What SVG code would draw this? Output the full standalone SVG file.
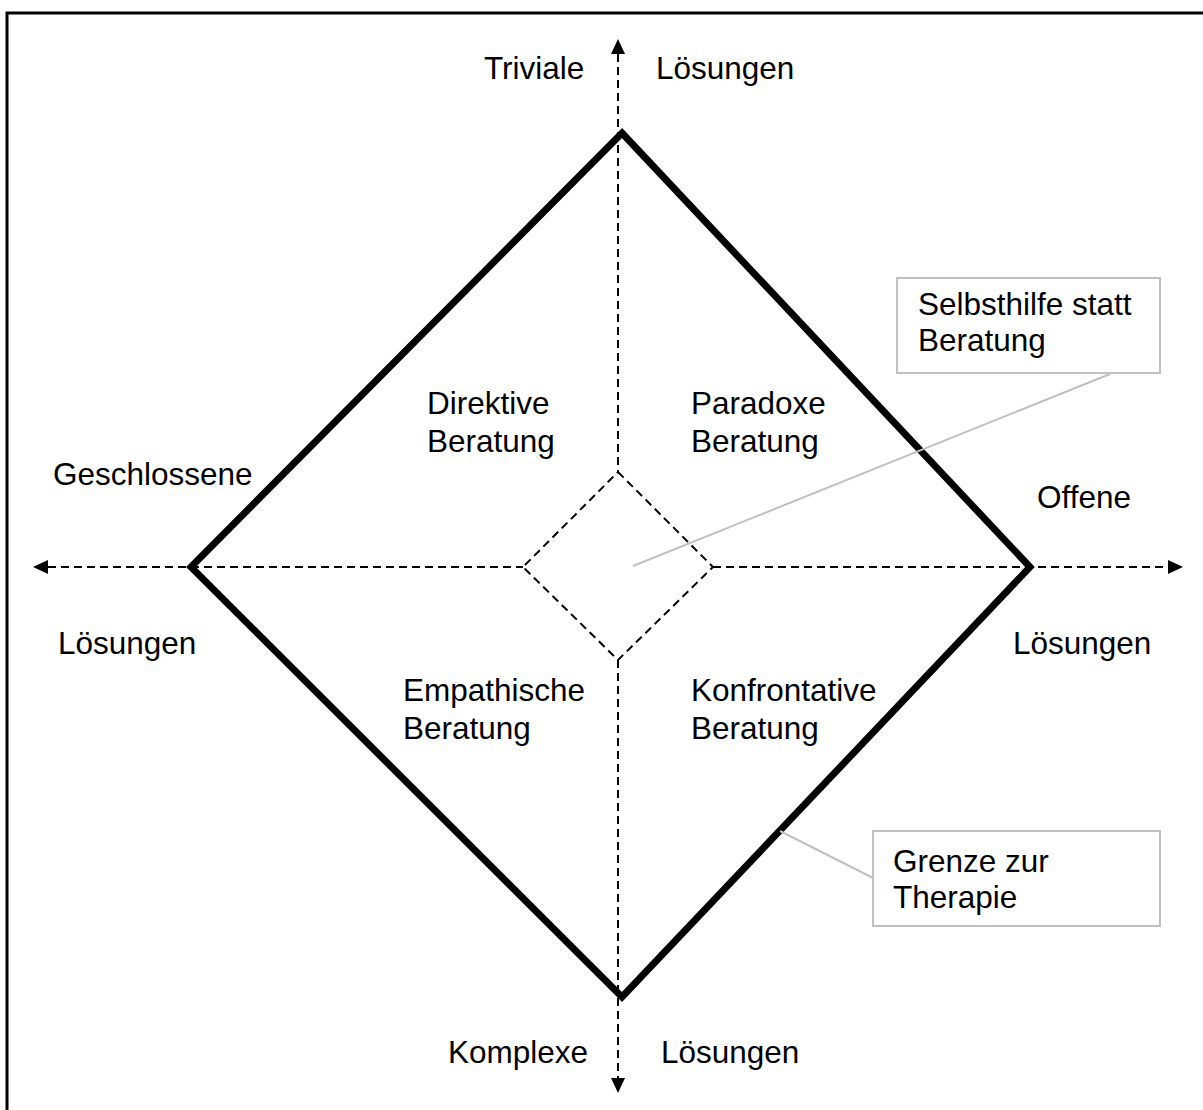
<svg xmlns="http://www.w3.org/2000/svg" width="1203" height="1110" viewBox="0 0 1203 1110">
  <style>
    .lbl { font-family: "Liberation Sans", Arial, sans-serif; font-size: 31.5px; fill: #000; }
    .axis { stroke: #000; stroke-width: 2; stroke-dasharray: 8 5; fill: none; }
    .frame { stroke: #000; stroke-width: 3; fill: none; }
    .bound { stroke: #000; stroke-width: 7; fill: none; stroke-linejoin: miter; }
    .note { stroke: #c0c0c0; stroke-width: 2; fill: #fff; }
    .leader { stroke: #c0c0c0; stroke-width: 2; fill: none; }
    .head { fill: #000; }
  </style>

  <rect width="1203" height="1110" fill="#fff"/>
  <!-- outer frame (continues past the page edges) -->
  <path class="frame" d="M7,1115 V13 H1210"/>

  <!-- counselling field boundary -->
  <g id="boundary">
    <polygon class="bound" points="622,133 1030,567 622,997 191,567"/>
  </g>

  <g id="connectors">
    <!-- axes -->
    <line class="axis" x1="618" y1="54" x2="618" y2="472"/>
    <line class="axis" x1="618" y1="660" x2="618" y2="1078"/>
    <line class="axis" x1="48" y1="567" x2="523" y2="567"/>
    <line class="axis" x1="713" y1="567" x2="1168" y2="567"/>
    <polygon class="head" points="618,39 611,54 625,54"/>
    <polygon class="head" points="618,1093 611,1078 625,1078"/>
    <polygon class="head" points="33,567 48,560 48,574"/>
    <polygon class="head" points="1183,567 1168,560 1168,574"/>
    <!-- inner zone -->
    <polygon class="axis" points="618,472 713,567 618,660 523,567"/>
    <!-- callout leaders -->
    <line class="leader" x1="1110" y1="374" x2="633" y2="566"/>
    <line class="leader" x1="873" y1="878" x2="780" y2="831"/>
  </g>

  <g id="axis-labels">
    <text class="lbl" x="484" y="79">Triviale</text>
    <text class="lbl" x="656" y="79">Lösungen</text>
    <text class="lbl" x="53" y="485">Geschlossene</text>
    <text class="lbl" x="58" y="654">Lösungen</text>
    <text class="lbl" x="1037" y="508">Offene</text>
    <text class="lbl" x="1013" y="654">Lösungen</text>
    <text class="lbl" x="448" y="1063">Komplexe</text>
    <text class="lbl" x="661" y="1063">Lösungen</text>
  </g>

  <g id="direktive">
    <text class="lbl" x="427" y="414">Direktive</text>
    <text class="lbl" x="427" y="452">Beratung</text>
  </g>
  <g id="paradoxe">
    <text class="lbl" x="691" y="414">Paradoxe</text>
    <text class="lbl" x="691" y="452">Beratung</text>
  </g>
  <g id="empathische">
    <text class="lbl" x="403" y="701">Empathische</text>
    <text class="lbl" x="403" y="739">Beratung</text>
  </g>
  <g id="konfrontative">
    <text class="lbl" x="691" y="701">Konfrontative</text>
    <text class="lbl" x="691" y="739">Beratung</text>
  </g>

  <g id="selbsthilfe">
    <rect class="note" x="897" y="278" width="263" height="95"/>
    <text class="lbl" x="918" y="315">Selbsthilfe statt</text>
    <text class="lbl" x="918" y="351">Beratung</text>
  </g>
  <g id="grenze">
    <rect class="note" x="873" y="831" width="287" height="95"/>
    <text class="lbl" x="893" y="872">Grenze zur</text>
    <text class="lbl" x="893" y="908">Therapie</text>
  </g>
</svg>
